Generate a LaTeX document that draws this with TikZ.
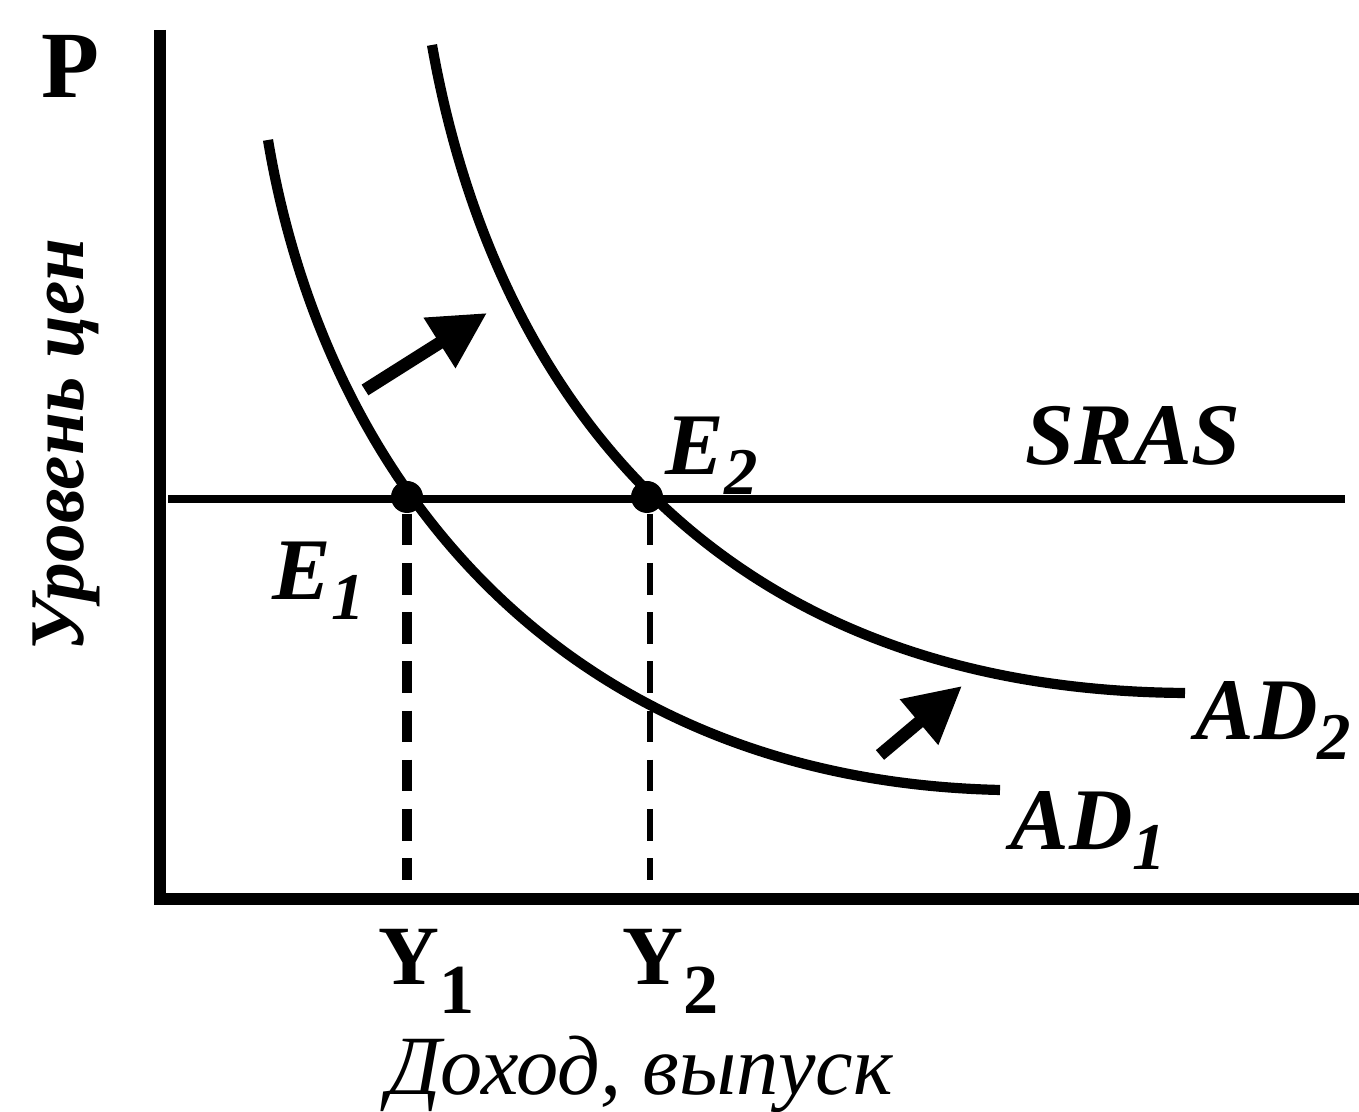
\documentclass[tikz,border=0pt]{standalone}
\usepackage{fontspec}
\setmainfont{Liberation Serif}
\usetikzlibrary{positioning,arrows.meta}
\tikzset{
  axisline/.style={line width=3.4pt},
  adcurve/.style={line width=2.9pt},
  guide/.style={dash pattern=on 9pt off 5pt},
  shiftarrow/.style={line width=3.6pt, -{Triangle[length=16pt,width=16pt]}},
  eqdot/.style={circle, fill, inner sep=0pt, minimum size=0.32cm},
  lbl/.style={font=\fontsize{25}{25}\selectfont\bfseries\itshape, inner sep=0pt, anchor=base west},
  ylbl/.style={font=\fontsize{24}{24}\selectfont\bfseries, inner sep=0pt, anchor=base west},
}
\newcommand{\lowsub}[1]{\raisebox{-5.5pt}{\fontsize{19}{19}\selectfont #1}}
\newcommand{\ysub}[1]{\raisebox{-8pt}{\fontsize{20}{20}\selectfont #1}}

\begin{document}
\begin{tikzpicture}[>=Latex]
    \useasboundingbox (0,0) rectangle (13.59,11.12);
    % axes
    \coordinate (O) at (1.60,2.13);
    \coordinate (ytop) at (1.60,10.82);
    \coordinate (xend) at (13.59,2.13);
    \draw[axisline] (ytop) -- (O) -- (xend);
    \node[font=\fontsize{27}{27}\selectfont\bfseries, inner sep=0pt] (P) at (0.70,10.46) {P};
    \node[font=\fontsize{22}{22}\selectfont\bfseries\itshape, rotate=90, inner sep=0pt] (plabel) at (0.66,6.67) {Уровень цен};
    % SRAS
    \coordinate (sras0) at (1.68,6.13);
    \coordinate (sras1) at (13.45,6.13);
    \draw[line width=2.1pt] (sras0) -- (sras1);
    \node[lbl] (sras) at (10.25,6.47) {SRAS};
    % demand curves
    \draw[adcurve] (2.68,9.72) .. controls (3.25,6.32) and (5.60,3.32) .. (10.00,3.22);
    \draw[adcurve] (4.32,10.67) .. controls (4.95,7.12) and (7.20,4.22) .. (11.85,4.19);
    \node[lbl] (ad1) at (10.10,2.62) {AD\lowsub{1}};
    \node[lbl] (ad2) at (11.95,3.72) {AD\lowsub{2}};
    % equilibria
    \node[eqdot] (E1) at (4.07,6.15) {};
    \node[eqdot] (E2) at (6.47,6.15) {};
    \node[lbl] (e1) at (2.72,5.12) {E\lowsub{1}};
    \node[lbl] (e2) at (6.65,6.37) {E\lowsub{2}};
    \coordinate (y1foot) at (4.07,2.32);
    \coordinate (y2foot) at (6.50,2.32);
    \draw[guide, line width=2.8pt] (E1.south -| y1foot) -- (y1foot);
    \draw[guide, line width=1.8pt] (E2.south -| y2foot) -- (y2foot);
    \node[ylbl] (Y1) at (3.78,1.27) {Y\ysub{1}};
    \node[ylbl] (Y2) at (6.22,1.27) {Y\ysub{2}};
    \node[font=\fontsize{24}{24}\selectfont\itshape, inner sep=0pt, anchor=base] (xlabel) at (6.40,0.17) {Доход, выпуск};
    % shift arrows
    \coordinate (s1a) at (3.65,7.22);
    \coordinate (s1b) at (4.87,7.99);
    \coordinate (s2a) at (8.80,3.57);
    \coordinate (s2b) at (9.62,4.26);
    \draw[shiftarrow] (s1a) -- (s1b);
    \draw[shiftarrow] (s2a) -- (s2b);
  \end{tikzpicture}
\end{document}
